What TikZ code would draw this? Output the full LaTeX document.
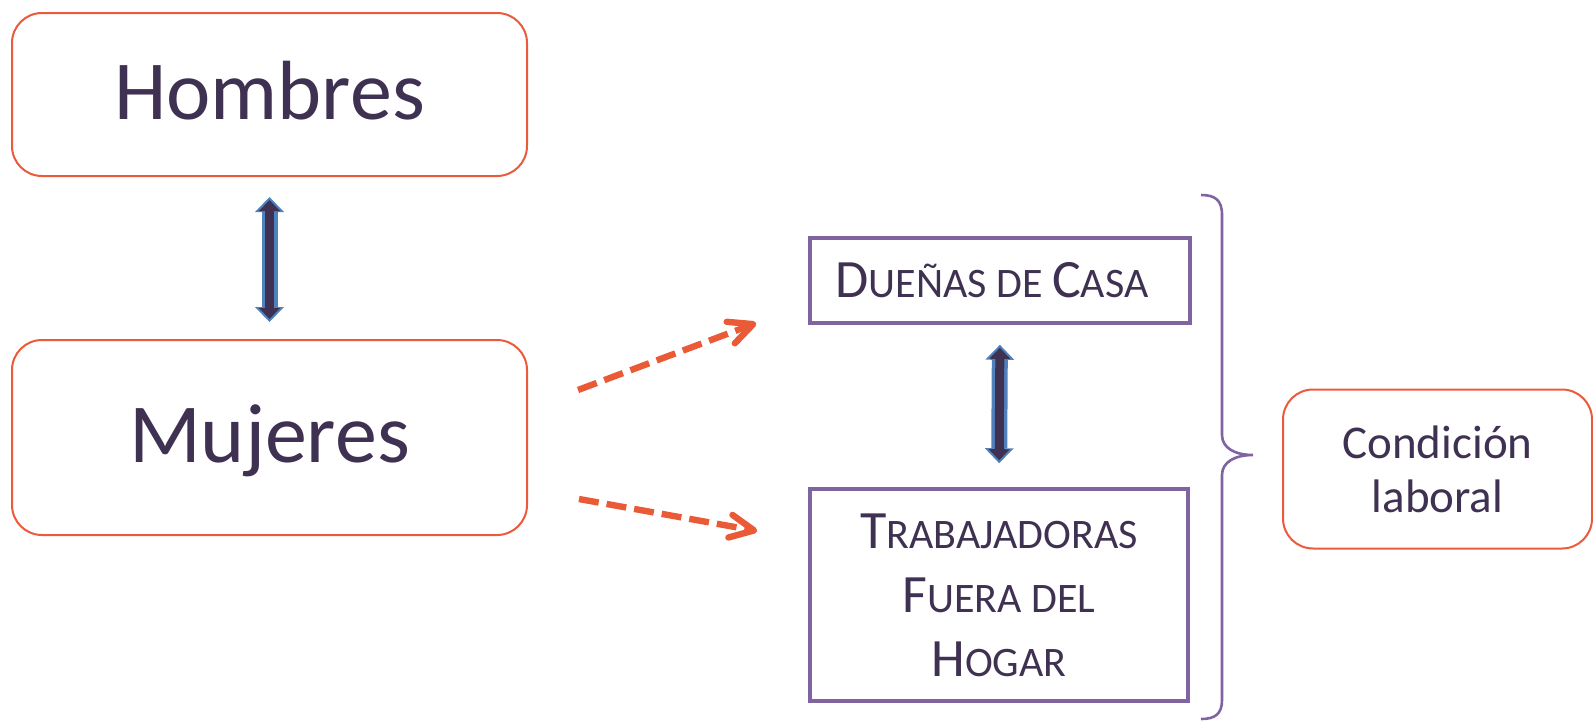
\documentclass[tikz,border=0pt]{standalone}
\usepackage{fontspec}
\setmainfont{Carlito}
\usetikzlibrary{arrows.meta}
\definecolor{txtpurple}{HTML}{3F3151}
\definecolor{boxorange}{HTML}{EB5A3C}
\definecolor{boxpurple}{HTML}{8064A2}
\definecolor{arrblue}{HTML}{4F81BD}
\definecolor{arrorange}{HTML}{EB5A36}
\newcommand{\bigletter}[1]{{\fontsize{27pt}{32pt}\selectfont #1}}

\begin{document}
\begin{tikzpicture}[x=0.5pt, y=-0.5pt,
  roundbox/.style={draw=boxorange, line width=1pt, rounded corners=15pt, text=txtpurple, align=center},
  squarebox/.style={draw=boxpurple, line width=1.8pt, text=txtpurple, align=center, font=\fontsize{21pt}{32pt}\selectfont},
  dblout/.style={draw=arrblue, line width=8pt, {Triangle[width=14.5pt,length=7.5pt,line width=0pt]}-{Triangle[width=14.5pt,length=7.5pt,line width=0pt]}},
  dblin/.style={draw=txtpurple, line width=4.5pt, {Triangle[width=10.5pt,length=5.5pt,line width=0pt]}-{Triangle[width=10.5pt,length=5.5pt,line width=0pt]}},
  dasharrow/.style={draw=arrorange, line width=3.2pt, dash pattern=on 10pt off 4pt, -{Straight Barb[length=12pt,width=11.5pt,round]}}]
\useasboundingbox (0,0) rectangle (1593,723);
\node[roundbox, minimum width=257.5pt, minimum height=81.5pt, font=\fontsize{42pt}{50pt}\selectfont, text height=27pt, text depth=2.5pt] (hombres) at (269.5,94.5) {Hombres}; %%Top left
\node[roundbox, minimum width=257.5pt, minimum height=97.5pt, font=\fontsize{42pt}{50pt}\selectfont, text height=27pt, text depth=2.5pt] (mujeres) at (269.5,437.5) {Mujeres}; %%Bottom left
\node[squarebox, minimum width=190pt, minimum height=42.5pt] (duenas) at (1000,280.5) {\bigletter{D}UEÑAS DE \bigletter{C}ASA\hspace{8pt}};
\node[squarebox, minimum width=189pt, minimum height=106pt] (trabajadoras) at (999,595) {\bigletter{T}RABAJADORAS\\\bigletter{F}UERA DEL\\\bigletter{H}OGAR};
\node[roundbox, minimum width=154.5pt, minimum height=79.5pt, font=\fontsize{23.5pt}{27pt}\selectfont] (condicion) at (1437.5,469) {Condición\\laboral}; %%Right
\draw[dblout, shorten <=10pt, shorten >=8.5pt] (hombres.south) -- (mujeres.north);
\draw[dblin, shorten <=11.5pt, shorten >=10pt] (hombres.south) -- (mujeres.north);
\draw[dblout, shorten <=10pt, shorten >=12pt] (duenas.south) -- (trabajadoras.north);
\draw[dblin, shorten <=11.5pt, shorten >=13.5pt] (duenas.south) -- (trabajadoras.north);
\draw[dasharrow] ([shift={(50,-47.5)}]mujeres.east) -- ([shift={(-52,42.5)}]duenas.west); %%Up
\draw[dasharrow] ([shift={(51,61.5)}]mujeres.east) -- ([shift={(-51,-64)}]trabajadoras.west); %%Down
\draw[boxpurple, line width=1.3pt] (1201,195) .. controls (1215,195) and (1222,200) .. (1222,215) -- (1222,435)
  .. controls (1222,448) and (1235,455) .. (1253,455) .. controls (1235,455) and (1222,462) .. (1222,475)
  -- (1222,700) .. controls (1222,714) and (1215,719) .. (1201,719); %%Brace
\end{tikzpicture}
\end{document}
